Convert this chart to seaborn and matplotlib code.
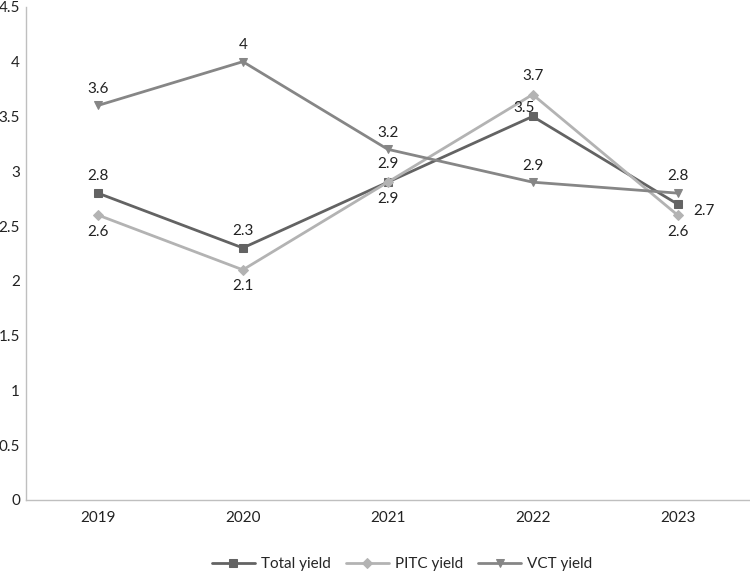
import pandas as pd
import matplotlib.pyplot as plt
import seaborn as sns

# data
years = ["2019", "2020", "2021", "2022", "2023"]
total_yield = [2.8, 2.3, 2.9, 3.5, 2.7]
pitc_yield = [2.6, 2.1, 2.9, 3.7, 2.6]
vct_yield = [3.6, 4.0, 3.2, 2.9, 2.8]
series_names = ["Total yield", "PITC yield", "VCT yield"]

sns.set_style("white")
plt.rcParams["font.family"] = ["Lato", "DejaVu Sans"]
plt.rcParams["font.size"] = 11

df = pd.DataFrame({"year": years, "Total yield": total_yield,
                   "PITC yield": pitc_yield, "VCT yield": vct_yield})
df["pos"] = range(len(years))

styles = {
    "Total yield": dict(color="#636363", marker="s"),
    "PITC yield": dict(color="#b3b3b3", marker="D"),
    "VCT yield": dict(color="#868686", marker="v"),
}
# where each value label sits relative to its point (points offset)
label_offsets = {
    "Total yield": [(0, 12), (0, 12), (0, 13), (-6, 6), (19, -5)],
    "PITC yield": [(0, -12), (0, -12), (0, -12), (0, 13), (0, -12)],
    "VCT yield": [(0, 12), (0, 12), (0, 12), (0, 12), (0, 12)],
}

fig = plt.figure(figsize=(7.5, 5.72), dpi=100)
ax = fig.add_axes([0.034, 0.126, 0.966, 0.862])

for name in series_names:
    st = styles[name]
    sns.lineplot(data=df, x="pos", y=name, ax=ax, color=st["color"],
                 marker=st["marker"], markersize=6 if st["marker"] != "D" else 5,
                 markeredgecolor=st["color"], linewidth=2, label=name)
    for i, v in enumerate(df[name]):
        dx, dy = label_offsets[name][i]
        ax.annotate(f"{v:g}", (i, v), xytext=(dx, dy), textcoords="offset points",
                    ha="center", va="center", fontsize=11, color="#222222")

ax.set_xlim(-0.5, len(years) - 0.5)
ax.set_ylim(0, 4.5)
ax.set_xticks(range(len(years)))
ax.set_xticklabels(years)
ax.set_yticks([0, 0.5, 1, 1.5, 2, 2.5, 3, 3.5, 4, 4.5])
ax.set_yticklabels(["0", "0.5", "1", "1.5", "2", "2.5", "3", "3.5", "4", "4.5"])
ax.set_xlabel("")
ax.set_ylabel("")
ax.tick_params(axis="both", length=0, labelsize=11, colors="#222222")
ax.tick_params(axis="x", pad=8)
ax.tick_params(axis="y", pad=4)
for side in ["top", "right"]:
    ax.spines[side].set_visible(False)
for side in ["left", "bottom"]:
    ax.spines[side].set_color("#bfbfbf")
    ax.spines[side].set_linewidth(1)

ax.legend(loc="center", bbox_to_anchor=(0.52, -0.13), ncol=3, frameon=False,
          fontsize=11, handlelength=2.8, columnspacing=1.0, handletextpad=0.4)

fig.savefig("out.png", dpi=100)
